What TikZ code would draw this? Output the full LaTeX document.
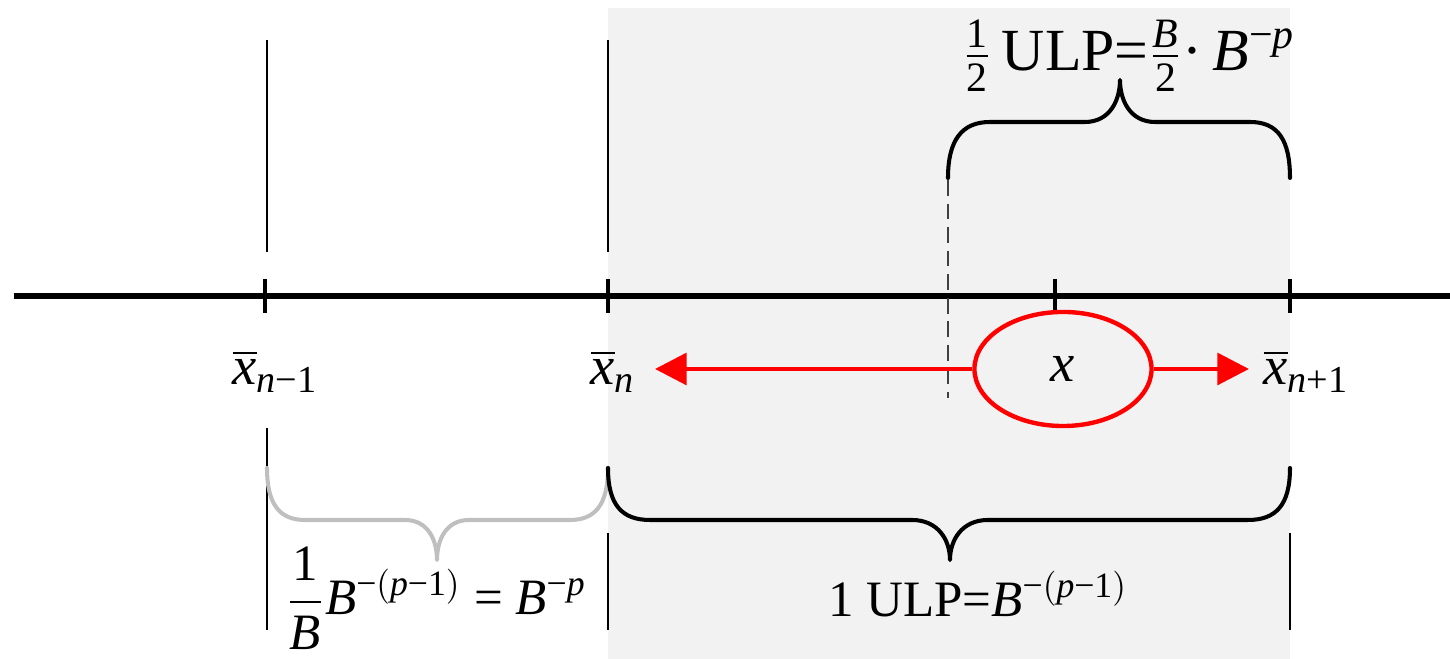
\documentclass[tikz,border=0pt]{standalone}
\usepackage{amsmath}
\usepackage{fontspec}
\setmainfont{Liberation Serif}
\usetikzlibrary{arrows.meta,shapes.geometric}
\definecolor{bgc}{RGB}{242,242,242}
\definecolor{lgray}{RGB}{191,191,191}
\definecolor{dgray}{RGB}{64,64,64}
\newcommand\vi[1]{\text{\itshape #1}}
\newcommand\tm{\text{−}}
\newcommand\tx[1]{\text{#1}}
\newcommand\xbar{\overline{\vi{x}}}
\begin{document}
\begin{tikzpicture}[x=0.01cm,y=-0.01cm,
  lbl/.style={inner sep=0pt,font=\fontsize{14.5}{17}\selectfont},
  ptlbl/.style={inner sep=0pt,font=\fontsize{15.5}{18}\selectfont,anchor=base west},
  axisline/.style={line width=1.45pt},
  tickline/.style={line width=1.25pt},
  thinline/.style={line width=0.45pt},
  bracepath/.style={line width=1.15pt,line cap=round,line join=round},
  redarrow/.style={red,line width=1.2pt,-{Triangle[length=9pt,width=9pt]}},
  dashline/.style={dgray,line width=0.45pt,dash pattern=on 4.5pt off 2.2pt}]
\useasboundingbox (0,0) rectangle (1450,659);
\fill[bgc] (608,8) rectangle (1290,659);
% axis
\coordinate (axL) at (14,296);
\coordinate (axR) at (1450,296);
\draw[axisline] (axL) -- (axR);
% ticks
\foreach \n/\xx in {t1/265,t2/608,t3/1055,t4/1290}{
  \coordinate (\n a) at (\xx,279);
  \coordinate (\n b) at (\xx,313);
  \draw[tickline] (\n a) -- (\n b);
}
% thin vertical lines
\coordinate (va1) at (267,40);  \coordinate (vb1) at (267,252);
\coordinate (va2) at (608,40);  \coordinate (vb2) at (608,252);
\coordinate (va3) at (267,428); \coordinate (vb3) at (267,630);
\coordinate (va4) at (608,533); \coordinate (vb4) at (608,630);
\coordinate (va5) at (1290,533); \coordinate (vb5) at (1290,630);
\foreach \i in {1,...,5}{\draw[thinline] (va\i) -- (vb\i);}
% dashed line
\coordinate (da) at (948,180);
\coordinate (db) at (948,398);
\draw[dashline] (da) -- (db);
% labels on axis
\node[ptlbl] (xnm1) at (232,385) {$\xbar_{\vi{n}\tm\tx{1}}$};
\node[ptlbl] (xn) at (590,385) {$\xbar_{\vi{n}}$};
\node[ptlbl] (xnp1) at (1263,385) {$\xbar_{\vi{n}\tx{+}\tx{1}}$};
% ellipse with x
\node[inner sep=0pt,font=\fontsize{15.5}{18}\selectfont,ellipse,draw=red,fill=bgc,line width=1.25pt,minimum width=1.77cm,minimum height=1.14cm] (xe) at (1063,369) {$\vi{x}$};
\coordinate (ltip) at (655,369);
\coordinate (rtip) at (1249,369);
\draw[redarrow] (xe.west) -- (ltip);
\draw[redarrow] (xe.east) -- (rtip);
% top brace
\draw[bracepath] (948,178) .. controls (948,140) and (962,122) .. (990,122) -- (1085,122)
  .. controls (1110,122) and (1120,100) .. (1120,80)
  .. controls (1120,100) and (1130,122) .. (1155,122) -- (1250,122)
  .. controls (1278,122) and (1290,140) .. (1290,178);
\node[inner sep=0pt,font=\fontsize{17}{20}\selectfont,anchor=base] (toplbl) at (1129,71) {$\frac{\tx{1}}{\tx{2}}\,\tx{ULP}\tx{=}\frac{\vi{B}}{\tx{2}}\tx{·}\,\vi{B}^{\tm\vi{p}}$};
% gray brace
\draw[bracepath,lgray] (267,468) .. controls (267,505) and (280,520) .. (305,520) -- (405,520)
  .. controls (428,520) and (437,540) .. (437,560)
  .. controls (437,540) and (446,520) .. (469,520) -- (570,520)
  .. controls (595,520) and (608,505) .. (608,468);
\node[lbl,anchor=base] (leftlbl) at (436,615) {$\dfrac{\tx{1}}{\vi{B}}\vi{B}^{\tm(\vi{p}\tm\tx{1})}\tx{ = }\vi{B}^{\tm\vi{p}}$};
% black bottom brace
\draw[bracepath] (608,468) .. controls (608,505) and (622,520) .. (650,520) -- (912,520)
  .. controls (938,520) and (950,540) .. (950,560)
  .. controls (950,540) and (962,520) .. (988,520) -- (1248,520)
  .. controls (1276,520) and (1290,505) .. (1290,468);
\node[lbl,anchor=base] (ulplbl) at (978,617) {$\tx{1 ULP}\tx{=}\vi{B}^{\tm(\vi{p}\tm\tx{1})}$};
\end{tikzpicture}
\end{document}
